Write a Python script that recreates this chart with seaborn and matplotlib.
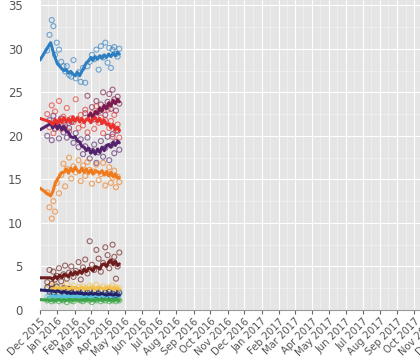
import matplotlib
matplotlib.use('Agg')
import matplotlib.pyplot as plt
import matplotlib.dates as mdates
from matplotlib.ticker import MultipleLocator
import numpy as np
import pandas as pd
import seaborn as sns

nan = np.nan

# draw order: small parties first, big ones on top
parties = ['PNV', 'Bildu', 'DL', 'ERC', 'IU', 'Podemos', 'UP', 'PSOE', 'Cs', 'PP']
colors = {'PP': '#2e7fc2', 'PSOE': '#e8312d', 'Podemos': '#55226e', 'UP': '#7d1b4e',
          'Cs': '#ef7b1d', 'IU': '#6e1c1c', 'ERC': '#232268', 'DL': '#f3c04a',
          'Bildu': '#58c0dd', 'PNV': '#3ca646'}

# ---- individual polls ----
poll_dates = ['2015-12-14', '2015-12-18', '2015-12-22', '2015-12-25', '2015-12-28', '2015-12-31',
              '2016-01-04', '2016-01-08', '2016-01-12', '2016-01-15', '2016-01-18', '2016-01-22',
              '2016-01-26', '2016-01-30', '2016-02-03', '2016-02-08', '2016-02-12', '2016-02-16',
              '2016-02-20', '2016-02-24', '2016-02-28', '2016-03-03', '2016-03-07', '2016-03-11',
              '2016-03-15', '2016-03-19', '2016-03-23', '2016-03-27', '2016-03-31', '2016-04-03',
              '2016-04-06', '2016-04-09', '2016-04-12', '2016-04-15', '2016-04-18', '2016-04-21']
pp_polls = [29.8, 31.6, 33.3, 32.6, 29.3, 30.7, 29.9, 28.5, 28.0, 27.4, 28.0, 27.0,
            26.8, 28.7, 26.6, 27.3, 26.2, 27.8, 26.1, 28.0, 28.5, 29.3, 28.8, 29.9,
            27.6, 30.3, 29.0, 30.7, 28.4, 30.1, 27.8, 29.9, 30.2, 29.4, 29.1, 30.0]
psoe_polls = [22.5, 21.0, 23.5, 20.3, 22.8, 21.4, 24.0, 20.8, 22.2, 21.0, 23.2, 20.5,
              22.0, 21.6, 24.2, 20.9, 22.4, 21.2, 23.0, 20.4, 21.9, 22.6, 20.8, 23.4,
              21.5, 22.1, 20.3, 21.8, 23.0, 20.9, 21.7, 19.9, 22.4, 20.6, 21.3, 19.8]
podemos_polls = [20.0, 21.8, 19.5, 22.3, 20.8, 21.5, 19.7, 22.0, 20.4, 21.2, 19.8, 20.9,
                 21.6, 19.2, 20.3, 18.7, 19.6, 17.9, 18.8, 19.8, 17.4, 18.3, 19.0, 16.9,
                 18.1, 19.4, 17.6, 18.6, 19.9, 17.2, 18.9, 20.2, 18.0, 19.3, 20.6, 18.4]
up_polls = [nan, nan, nan, nan, nan, nan, nan, nan, nan, nan, nan, nan,
            nan, nan, nan, nan, nan, nan, 22.6, 24.6, 22.0, 23.3, 21.9, 24.0,
            22.8, 23.6, 25.0, 22.4, 23.9, 24.8, 23.1, 25.3, 24.2, 22.9, 24.5, 23.7]
cs_polls = [13.5, 11.8, 10.5, 12.5, 11.3, 14.6, 13.4, 15.5, 16.8, 14.2, 16.2, 17.5,
            15.1, 16.5, 15.8, 17.2, 14.8, 16.6, 15.4, 17.0, 16.1, 14.5, 15.9, 16.7,
            14.9, 15.6, 16.9, 14.3, 15.7, 16.4, 14.6, 15.2, 16.0, 14.1, 15.3, 14.7]
iu_polls = [3.2, 4.6, 3.0, 4.4, 3.5, 3.9, 4.8, 3.3, 4.1, 5.1, 3.6, 4.3,
            5.0, 3.8, 4.5, 5.5, 3.5, 4.9, 5.8, 4.2, 7.9, 5.2, 4.6, 6.9,
            5.9, 4.4, 5.4, 7.2, 6.3, 4.8, 5.6, 7.5, 6.1, 3.6, 5.0, 6.6]
erc_polls = [2.6, 2.1, 2.4, 2.0, 2.3, 2.7, 1.9, 2.2, 2.5, 1.8, 2.1, 2.4,
             2.0, 1.7, 2.3, 2.1, 1.9, 2.2, 1.6, 2.0, 2.3, 1.8, 2.1, 1.7,
             1.9, 2.2, 1.6, 2.0, 1.8, 2.1, 1.5, 1.9, 2.2, 1.7, 1.8, 2.0]
dl_polls = [2.4, 2.8, 2.3, 2.6, 2.9, 2.5, 2.2, 2.7, 2.4, 2.6, 3.0, 2.3,
            2.5, 2.8, 2.4, 2.6, 2.2, 2.7, 2.5, 2.3, 2.8, 2.6, 2.4, 2.9,
            2.5, 2.3, 2.7, 2.4, 2.6, 2.2, 2.5, 2.8, 2.4, 2.6, 2.3, 2.5]
bildu_polls = [1.5, 1.7, 1.4, 1.6, 1.8, 1.5, 1.3, 1.6, 1.7, 1.4, 1.5, 1.8,
               1.6, 1.4, 1.7, 1.5, 1.3, 1.6, 1.8, 1.5, 1.4, 1.7, 1.6, 1.5,
               1.9, 1.6, 1.4, 1.7, 1.5, 1.8, 1.6, 1.4, 1.7, 1.5, 1.6, 1.8]
pnv_polls = [1.1, 1.3, 1.0, 1.2, 1.1, 1.4, 1.0, 1.2, 1.1, 1.3, 0.9, 1.2,
             1.1, 1.0, 1.3, 1.2, 1.1, 1.0, 1.2, 1.3, 1.1, 0.9, 1.2, 1.1,
             1.3, 1.0, 1.2, 1.1, 1.4, 1.0, 1.2, 1.1, 1.3, 1.0, 1.2, 1.1]

# ---- trend lines ----
trend_dates = ['2015-12-01', '2015-12-20', '2015-12-24', '2015-12-28', '2016-01-01', '2016-01-05',
               '2016-01-09', '2016-01-13', '2016-01-17', '2016-01-21', '2016-01-25', '2016-01-29',
               '2016-02-02', '2016-02-06', '2016-02-10', '2016-02-14', '2016-02-18', '2016-02-22',
               '2016-02-26', '2016-03-01', '2016-03-05', '2016-03-09', '2016-03-13', '2016-03-17',
               '2016-03-21', '2016-03-25', '2016-03-29', '2016-04-02', '2016-04-06', '2016-04-10',
               '2016-04-14', '2016-04-18', '2016-04-21']
pp_trend = [28.7, 30.7, 29.8, 29.0, 28.3, 28.0, 27.7, 27.5, 27.6, 27.2, 27.4, 27.1,
            26.9, 27.3, 26.9, 27.4, 27.9, 28.4, 28.6, 29.0, 28.7, 29.1, 28.8, 29.2,
            28.9, 29.3, 29.0, 29.4, 29.1, 29.5, 29.2, 29.6, 29.4]
psoe_trend = [22.0, 21.6, 21.3, 21.9, 21.4, 22.0, 21.5, 22.1, 21.6, 22.0, 21.5, 22.2,
              21.7, 22.1, 21.6, 22.0, 21.5, 21.9, 22.0, 21.5, 21.9, 22.1, 21.6, 22.0,
              21.4, 21.8, 21.3, 21.4, 20.9, 21.3, 20.7, 21.0, 20.6]
podemos_trend = [20.7, 21.4, 20.9, 21.4, 20.8, 21.2, 20.7, 21.1, 20.5, 20.4, 19.9, 19.8,
                 19.9, 19.4, 19.3, 18.8, 18.7, 18.3, 18.6, 18.0, 18.4, 17.9, 18.5, 18.1,
                 18.7, 18.3, 18.9, 19.0, 18.7, 19.3, 18.9, 19.4, 19.2]
up_trend = [nan, nan, nan, nan, nan, nan, nan, nan, nan, nan, nan, nan,
            nan, nan, nan, nan, nan, nan, 22.3, 22.6, 22.1, 22.8, 22.5, 23.2,
            22.8, 23.5, 23.1, 23.8, 23.4, 24.1, 23.7, 24.2, 23.9]
cs_trend = [14.0, 13.1, 13.6, 14.5, 15.0, 15.4, 15.8, 15.8, 16.2, 15.7, 16.3, 15.9,
            16.4, 16.0, 15.8, 16.3, 15.8, 16.2, 15.7, 16.1, 15.6, 16.0, 15.9, 15.7,
            16.0, 15.5, 15.9, 15.4, 15.8, 15.3, 15.6, 15.2, 15.2]
iu_trend = [3.7, 3.7, 3.5, 3.9, 3.6, 4.0, 3.7, 4.1, 4.0, 3.8, 4.3, 4.0,
            4.4, 4.1, 4.5, 4.2, 4.7, 4.4, 4.8, 4.7, 4.5, 5.0, 4.9, 4.7,
            5.2, 5.3, 5.0, 5.5, 5.7, 5.2, 5.6, 5.1, 5.3]
erc_trend = [2.3, 2.2, 2.2, 2.1, 2.2, 2.1, 2.0, 2.1, 2.0, 2.0, 1.9, 2.0,
             1.9, 2.0, 1.9, 1.9, 1.8, 1.9, 1.8, 1.9, 1.8, 1.9, 1.8, 1.8,
             1.9, 1.8, 1.7, 1.8, 1.8, 1.7, 1.8, 1.7, 1.7]
dl_trend = [nan, 2.3, 2.4, 2.5, 2.4, 2.6, 2.5, 2.5, 2.6, 2.4, 2.5, 2.6,
            2.5, 2.4, 2.5, 2.6, 2.5, 2.4, 2.5, 2.6, 2.5, 2.4, 2.5, 2.6,
            2.5, 2.4, 2.5, 2.6, 2.5, 2.4, 2.5, 2.5, 2.4]
bildu_trend = [nan, nan, 1.6, 1.5, 1.6, 1.6, 1.5, 1.6, 1.5, 1.6, 1.6, 1.5,
               1.6, 1.5, 1.6, 1.6, 1.5, 1.6, 1.6, 1.5, 1.6, 1.7, 1.6, 1.6,
               1.7, 1.6, 1.6, 1.7, 1.6, 1.6, 1.7, 1.6, 1.6]
pnv_trend = [1.2, 1.1, 1.2, 1.1, 1.2, 1.2, 1.1, 1.2, 1.1, 1.2, 1.2, 1.1,
             1.2, 1.2, 1.1, 1.2, 1.1, 1.2, 1.2, 1.1, 1.2, 1.1, 1.2, 1.2,
             1.1, 1.2, 1.2, 1.1, 1.2, 1.1, 1.2, 1.2, 1.1]

polls = pd.DataFrame({'date': pd.to_datetime(poll_dates),
                      'PNV': pnv_polls, 'Bildu': bildu_polls, 'DL': dl_polls, 'ERC': erc_polls,
                      'IU': iu_polls, 'Podemos': podemos_polls, 'UP': up_polls,
                      'PSOE': psoe_polls, 'Cs': cs_polls, 'PP': pp_polls})
polls = polls.melt('date', var_name='party', value_name='pct').dropna()

trend = pd.DataFrame({'date': pd.to_datetime(trend_dates),
                      'PNV': pnv_trend, 'Bildu': bildu_trend, 'DL': dl_trend, 'ERC': erc_trend,
                      'IU': iu_trend, 'Podemos': podemos_trend, 'UP': up_trend,
                      'PSOE': psoe_trend, 'Cs': cs_trend, 'PP': pp_trend})
trend = trend.melt('date', var_name='party', value_name='pct').dropna()

sns.set_style('darkgrid', {'axes.facecolor': '#e5e5e5'})
plt.rcParams['font.family'] = ['DejaVu Sans']

fig = plt.figure(figsize=(4.2, 3.58), dpi=100)
# axes run past the right edge of the figure, as in the reference
ax = fig.add_axes([40 / 420, 48 / 358, 425 / 420, 310 / 358])

sns.scatterplot(data=polls, x='date', y='pct', hue='party', hue_order=parties,
                palette=colors, s=13, linewidth=0.8, alpha=0.65, legend=False, ax=ax, zorder=2)
pts = ax.collections[-1]
pts.set_edgecolors(pts.get_facecolors())
pts.set_facecolors('none')

sns.lineplot(data=trend, x='date', y='pct', hue='party', hue_order=parties,
             palette=colors, lw=2.2, errorbar=None, legend=False, ax=ax, zorder=3)

ax.set_xlim(pd.Timestamp('2015-12-01'), pd.Timestamp('2017-12-31'))
ax.set_ylim(0, 35.6)
ax.set_xlabel('')
ax.set_ylabel('')

ax.xaxis.set_major_locator(mdates.MonthLocator())
ax.xaxis.set_minor_locator(mdates.MonthLocator(bymonthday=16))
ax.xaxis.set_major_formatter(mdates.DateFormatter('%b %Y'))
ax.yaxis.set_major_locator(MultipleLocator(5))
ax.yaxis.set_minor_locator(MultipleLocator(2.5))

ax.grid(which='major', color='white', lw=0.8)
ax.grid(which='minor', color='white', lw=0.5, alpha=0.5)

ax.tick_params(axis='x', which='major', bottom=True, length=3, width=0.8,
               color='#666666', labelcolor='#555555', labelsize=7.2, pad=1.5)
ax.tick_params(axis='y', which='major', left=False, labelcolor='#555555', labelsize=8.5, pad=9)
ax.tick_params(which='minor', length=0)
plt.setp(ax.get_xticklabels(), rotation=45, ha='right', rotation_mode='anchor')

for side in ['top', 'right', 'left']:
    ax.spines[side].set_visible(False)
ax.spines['bottom'].set_color('#999999')
ax.spines['bottom'].set_linewidth(0.8)

fig.savefig('out.png', dpi=100)
plt.close()
